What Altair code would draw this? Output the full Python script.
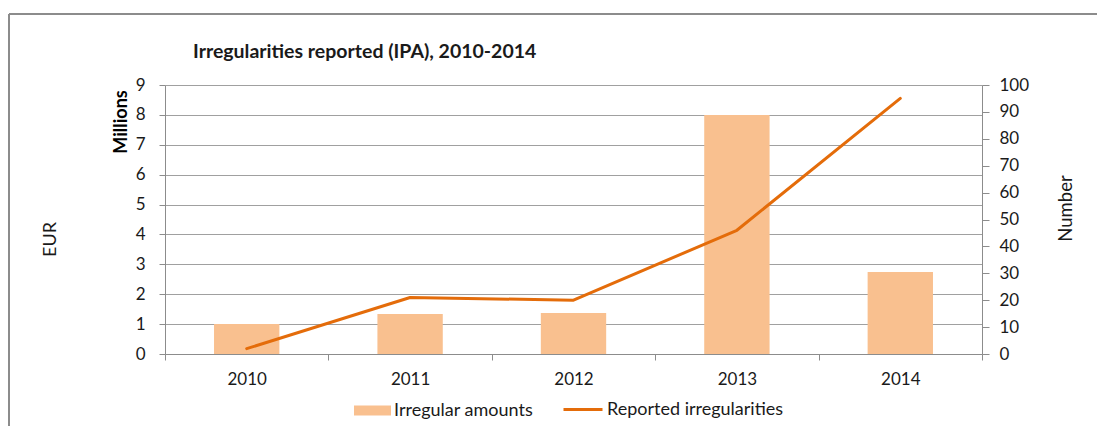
import altair as alt
import pandas as pd

years = ["2010", "2011", "2012", "2013", "2014"]
amounts_millions = [1.0, 1.34, 1.37, 8.0, 2.74]
reported_counts = [2, 21, 20, 46, 95]
bar_series = "Irregular amounts"
line_series = "Reported irregularities"
title_text = "Irregularities reported (IPA), 2010-2014"
left_ticks = [0, 1, 2, 3, 4, 5, 6, 7, 8, 9]
right_ticks = [0, 10, 20, 30, 40, 50, 60, 70, 80, 90, 100]

df = pd.DataFrame({
    "year": years,
    "amount": amounts_millions,
    "count": reported_counts,
    "bar_series": bar_series,
    "line_series": line_series,
})

FONT = "Lato"
GRID = "#A0A0A0"
AXIS = "#8C8C8C"
BAR = "#F9C08F"
LINE = "#E46C0A"
TXT = "#1A1A1A"

W, H = 817, 269
PL, PT, PR, PB = 157, 77, 115, 72

x_enc = alt.X(
    "year:N", title=None,
    scale=alt.Scale(paddingInner=0, paddingOuter=0),
    axis=alt.Axis(labelAngle=0, tickBand="extent", domainColor=AXIS, tickColor=AXIS,
                  tickSize=6, labelPadding=11, labelFontSize=17, labelColor=TXT,
                  labelFont=FONT, grid=False),
)

bars = alt.Chart(df).mark_bar(width=alt.RelativeBandSize(0.4)).encode(
    x=x_enc,
    y=alt.Y("amount:Q", scale=alt.Scale(domain=[0, 9], nice=False),
            axis=alt.Axis(title="EUR", values=left_ticks, grid=True, gridColor=GRID,
                          gridWidth=1, domainColor=AXIS, tickColor=AXIS, tickSize=6,
                          labelPadding=14, labelFontSize=17, labelColor=TXT, labelFont=FONT,
                          titleX=-114.5, titleY=154, titleAngle=270, titleAlign="center",
                          titleBaseline="middle", titleFontWeight="normal", titleFontSize=18,
                          titleFont=FONT, titleColor=TXT)),
    fill=alt.Fill("bar_series:N", scale=alt.Scale(range=[BAR]),
                  legend=alt.Legend(orient="none", legendX=189, legendY=307, title=None,
                                    symbolType="M-1,-0.27H1V0.27H-1Z", symbolSize=37 * 37,
                                    symbolStrokeWidth=0, labelOffset=3, labelFontSize=18,
                                    labelFont=FONT, labelColor=TXT, padding=0, labelLimit=300)),
)

line = alt.Chart(df).mark_line(strokeWidth=3, strokeCap="round", strokeJoin="round").encode(
    x=x_enc,
    y=alt.Y("count:Q", scale=alt.Scale(domain=[0, 100], nice=False),
            axis=alt.Axis(orient="right", title="Number", values=right_ticks, grid=False,
                          domainColor=AXIS, tickColor=AXIS, tickSize=7, labelPadding=10,
                          labelFontSize=17, labelColor=TXT, labelFont=FONT,
                          titleX=83, titleY=123, titleAngle=270, titleAlign="center",
                          titleBaseline="middle", titleFontWeight="normal", titleFontSize=18.5,
                          titleFont=FONT, titleColor=TXT)),
    stroke=alt.Stroke("line_series:N", scale=alt.Scale(range=[LINE]),
                      legend=alt.Legend(orient="none", legendX=397, legendY=303.5, title=None,
                                        symbolType="stroke", symbolSize=39 * 39,
                                        symbolStrokeWidth=3, labelOffset=3, labelFontSize=18,
                                        labelFont=FONT, labelColor=TXT, padding=0, labelLimit=300)),
)

title = alt.Chart(pd.DataFrame({"t": [title_text]})).mark_text(
    align="left", baseline="alphabetic", font=FONT, fontSize=19.5, fontWeight="bold", color=TXT
).encode(text="t:N", x=alt.value(28), y=alt.value(-26.7))

millions = alt.Chart(pd.DataFrame({"t": ["Millions"]})).mark_text(
    align="center", baseline="middle", angle=270, font=FONT, fontSize=18, fontWeight="bold",
    color="#000000"
).encode(text="t:N", x=alt.value(-43), y=alt.value(37))

one = pd.DataFrame({"k": [0]})
border_top = alt.Chart(one).mark_rule(color="#8C8C8C", strokeWidth=2).encode(
    x=alt.value(-156), x2=alt.value(W + PR), y=alt.value(-71))
border_left = alt.Chart(one).mark_rule(color="#8C8C8C", strokeWidth=2).encode(
    x=alt.value(-156), y=alt.value(-71), y2=alt.value(H + PB))

chart = alt.layer(bars, line, title, millions, border_top, border_left).resolve_scale(
    y="independent", fill="independent", stroke="independent"
).properties(
    width=W, height=H,
    autosize=alt.AutoSizeParams(type="none"),
    padding={"left": PL, "top": PT, "right": PR, "bottom": PB},
    background="white",
).configure_view(stroke=None)

chart.save("out.html", embed_options={"renderer": "svg", "actions": False})
